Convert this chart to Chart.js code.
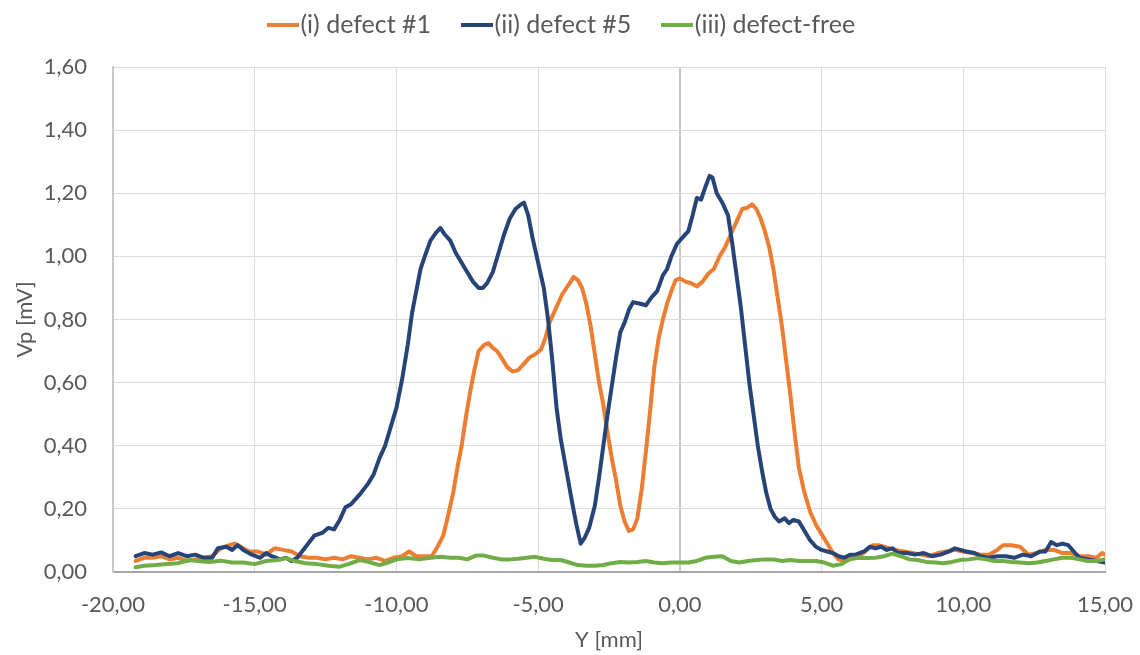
<!DOCTYPE html>
<html>
<head>
<meta charset="utf-8">
<script src="https://cdn.jsdelivr.net/npm/chart.js@4.4.0/dist/chart.umd.min.js"></script>
<style>
  html, body { margin: 0; padding: 0; background: #ffffff; }
  #wrap { width: 1140px; height: 655px; position: relative; }
</style>
</head>
<body>
<div id="wrap"><canvas id="c" width="1140" height="655"></canvas></div>
<script>
// ---- Data ----
const seriesLabels = ['(i) defect #1', '(ii) defect #5', '(iii) defect-free'];

const defect1X = [-19.2,-18.9,-18.6,-18.3,-18.0,-17.7,-17.4,-17.1,-16.8,-16.5,-16.2,-15.9,-15.7,-15.5,-15.2,-14.9,-14.6,-14.3,-14.0,-13.7,-13.4,-13.1,-12.8,-12.5,-12.2,-11.9,-11.6,-11.3,-11.0,-10.7,-10.4,-10.1,-9.8,-9.55,-9.3,-9.0,-8.75,-8.55,-8.35,-8.2,-8.0,-7.85,-7.7,-7.55,-7.4,-7.25,-7.1,-6.9,-6.75,-6.6,-6.45,-6.3,-6.1,-5.9,-5.7,-5.5,-5.3,-5.1,-4.9,-4.75,-4.6,-4.45,-4.3,-4.15,-4.0,-3.85,-3.75,-3.6,-3.45,-3.3,-3.15,-3.0,-2.85,-2.7,-2.55,-2.4,-2.25,-2.1,-1.95,-1.8,-1.65,-1.5,-1.35,-1.2,-1.05,-0.9,-0.75,-0.6,-0.45,-0.3,-0.15,0.0,0.2,0.4,0.6,0.8,1.0,1.2,1.4,1.6,1.8,2.0,2.2,2.4,2.55,2.7,2.85,3.0,3.15,3.3,3.45,3.6,3.75,3.9,4.05,4.2,4.4,4.6,4.8,5.0,5.2,5.4,5.6,5.8,6.0,6.2,6.4,6.6,6.8,7.0,7.2,7.4,7.6,7.9,8.2,8.5,8.8,9.1,9.4,9.7,10.0,10.3,10.6,10.9,11.2,11.4,11.7,12.0,12.3,12.6,12.9,13.2,13.5,13.8,14.1,14.4,14.7,14.9,15.0];
const defect1Y = [0.035,0.045,0.045,0.05,0.04,0.045,0.035,0.04,0.045,0.05,0.075,0.085,0.09,0.08,0.065,0.065,0.055,0.075,0.07,0.065,0.05,0.045,0.045,0.04,0.045,0.04,0.05,0.045,0.04,0.045,0.035,0.045,0.05,0.065,0.05,0.05,0.05,0.08,0.115,0.17,0.25,0.33,0.40,0.49,0.57,0.64,0.70,0.72,0.725,0.71,0.70,0.68,0.65,0.635,0.64,0.66,0.68,0.69,0.705,0.74,0.79,0.82,0.85,0.88,0.90,0.92,0.935,0.925,0.90,0.85,0.78,0.69,0.60,0.53,0.44,0.36,0.29,0.21,0.16,0.13,0.135,0.17,0.26,0.38,0.51,0.65,0.74,0.80,0.85,0.89,0.925,0.93,0.92,0.915,0.905,0.92,0.945,0.96,1.0,1.03,1.07,1.11,1.15,1.155,1.165,1.15,1.12,1.08,1.03,0.96,0.87,0.78,0.67,0.56,0.44,0.33,0.25,0.19,0.15,0.12,0.09,0.06,0.04,0.035,0.045,0.05,0.055,0.07,0.085,0.085,0.08,0.075,0.07,0.065,0.06,0.055,0.05,0.06,0.065,0.07,0.065,0.06,0.055,0.055,0.07,0.085,0.085,0.08,0.055,0.06,0.07,0.07,0.06,0.06,0.05,0.05,0.045,0.06,0.055];

const defect5X = [-19.2,-18.9,-18.6,-18.3,-18.0,-17.7,-17.4,-17.1,-16.8,-16.5,-16.3,-16.0,-15.8,-15.6,-15.4,-15.1,-14.8,-14.6,-14.4,-14.1,-13.9,-13.7,-13.5,-13.2,-12.9,-12.6,-12.4,-12.2,-12.0,-11.8,-11.6,-11.3,-11.0,-10.8,-10.6,-10.4,-10.2,-10.0,-9.8,-9.6,-9.45,-9.3,-9.15,-9.0,-8.8,-8.6,-8.45,-8.3,-8.1,-7.9,-7.7,-7.5,-7.3,-7.1,-6.95,-6.8,-6.6,-6.4,-6.2,-6.0,-5.8,-5.6,-5.5,-5.35,-5.2,-5.0,-4.8,-4.65,-4.5,-4.35,-4.2,-4.0,-3.8,-3.65,-3.5,-3.35,-3.2,-3.0,-2.85,-2.7,-2.55,-2.4,-2.25,-2.1,-1.95,-1.8,-1.65,-1.4,-1.2,-1.0,-0.8,-0.6,-0.45,-0.3,-0.1,0.1,0.3,0.45,0.6,0.75,0.9,1.05,1.15,1.3,1.5,1.7,1.85,2.0,2.15,2.3,2.45,2.6,2.75,2.9,3.05,3.2,3.35,3.5,3.7,3.85,4.0,4.2,4.4,4.6,4.8,5.0,5.2,5.4,5.6,5.8,6.0,6.2,6.5,6.7,6.9,7.1,7.3,7.5,7.7,8.0,8.3,8.6,8.9,9.2,9.5,9.7,9.9,10.1,10.4,10.6,10.9,11.2,11.5,11.8,12.1,12.4,12.7,12.9,13.1,13.3,13.5,13.7,13.9,14.1,14.4,14.7,15.0];
const defect5Y = [0.05,0.06,0.055,0.062,0.05,0.06,0.05,0.055,0.045,0.045,0.075,0.08,0.07,0.085,0.07,0.055,0.045,0.06,0.05,0.04,0.045,0.035,0.045,0.08,0.115,0.125,0.14,0.135,0.165,0.205,0.215,0.245,0.28,0.31,0.36,0.40,0.46,0.52,0.61,0.72,0.82,0.89,0.96,1.0,1.05,1.075,1.09,1.07,1.05,1.01,0.98,0.95,0.92,0.90,0.90,0.915,0.95,1.01,1.07,1.12,1.15,1.165,1.17,1.13,1.06,0.98,0.90,0.80,0.67,0.52,0.42,0.32,0.22,0.15,0.09,0.11,0.14,0.21,0.30,0.40,0.50,0.59,0.68,0.76,0.79,0.83,0.855,0.85,0.845,0.87,0.89,0.94,0.96,1.0,1.04,1.06,1.08,1.13,1.185,1.18,1.22,1.255,1.25,1.2,1.17,1.13,1.04,0.94,0.84,0.72,0.60,0.50,0.40,0.32,0.25,0.20,0.175,0.16,0.17,0.155,0.165,0.16,0.13,0.10,0.08,0.07,0.065,0.06,0.05,0.045,0.055,0.055,0.065,0.08,0.075,0.08,0.07,0.075,0.06,0.06,0.055,0.06,0.05,0.055,0.065,0.075,0.07,0.065,0.06,0.05,0.045,0.05,0.05,0.045,0.055,0.05,0.065,0.065,0.095,0.085,0.09,0.085,0.065,0.045,0.04,0.035,0.03];

const defectFreeX = [-19.2,-18.9,-18.5,-18.1,-17.7,-17.3,-17.0,-16.6,-16.2,-15.8,-15.4,-15.0,-14.6,-14.2,-13.9,-13.6,-13.2,-12.8,-12.4,-12.0,-11.7,-11.3,-11.0,-10.6,-10.3,-10.0,-9.6,-9.2,-8.8,-8.45,-8.1,-7.8,-7.5,-7.2,-6.9,-6.6,-6.3,-6.0,-5.7,-5.4,-5.1,-4.8,-4.5,-4.2,-3.9,-3.6,-3.3,-3.0,-2.7,-2.4,-2.1,-1.8,-1.5,-1.2,-0.9,-0.6,-0.3,0.0,0.3,0.6,0.9,1.2,1.5,1.8,2.1,2.4,2.7,3.0,3.3,3.6,3.9,4.2,4.5,4.8,5.1,5.4,5.7,6.0,6.3,6.6,6.9,7.2,7.5,7.8,8.1,8.4,8.7,9.0,9.3,9.6,9.9,10.2,10.5,10.8,11.1,11.4,11.7,12.0,12.3,12.6,12.9,13.2,13.5,13.8,14.1,14.4,14.7,15.0];
const defectFreeY = [0.015,0.02,0.022,0.025,0.028,0.038,0.035,0.032,0.036,0.03,0.03,0.025,0.035,0.038,0.044,0.035,0.028,0.025,0.02,0.017,0.025,0.038,0.032,0.022,0.03,0.04,0.044,0.04,0.045,0.048,0.045,0.045,0.04,0.052,0.052,0.045,0.04,0.04,0.042,0.045,0.048,0.042,0.038,0.038,0.03,0.022,0.02,0.02,0.022,0.028,0.032,0.03,0.032,0.035,0.03,0.028,0.03,0.03,0.03,0.035,0.045,0.048,0.05,0.035,0.03,0.035,0.038,0.04,0.04,0.035,0.038,0.035,0.035,0.035,0.03,0.02,0.025,0.04,0.045,0.044,0.045,0.05,0.058,0.05,0.04,0.038,0.032,0.03,0.028,0.032,0.038,0.04,0.044,0.04,0.035,0.035,0.032,0.03,0.028,0.03,0.035,0.04,0.045,0.045,0.04,0.035,0.035,0.04];

const seriesColors = ['#ED7D31', '#264478', '#70AD47'];

const xMin = -20, xMax = 15, xStep = 5;
const yMin = 0, yMax = 1.6, yStep = 0.2;
const xTitle = 'Y [mm]';
const yTitle = 'Vp [mV]';

// ---- Chart ----
const toPoints = (xs, ys) => xs.map((x, i) => ({ x: x, y: ys[i] }));
const fmt = v => Number(v).toFixed(2).replace('.', ',');
const textColor = '#595959';
const FONT = 'Lato';

// legend sample: a short thick line swatch
function legendSwatch(color) {
  const c = document.createElement('canvas');
  c.width = 32; c.height = 4;
  const g = c.getContext('2d');
  g.fillStyle = color;
  g.fillRect(0, 0, 32, 4);
  return c;
}

const legendFit = {
  id: 'legendFit',
  beforeLayout(chart) {
    const lg = chart.legend;
    if (lg && !lg._patched) {
      const orig = lg.fit;
      lg.fit = function () { orig.call(this); this.height = 96; };
      lg._patched = true;
    }
  }
};

new Chart(document.getElementById('c'), {
  type: 'line',
  data: {
    datasets: [
      { label: seriesLabels[0], data: toPoints(defect1X, defect1Y), borderColor: seriesColors[0], backgroundColor: seriesColors[0], order: 3 },
      { label: seriesLabels[1], data: toPoints(defect5X, defect5Y), borderColor: seriesColors[1], backgroundColor: seriesColors[1], order: 2 },
      { label: seriesLabels[2], data: toPoints(defectFreeX, defectFreeY), borderColor: seriesColors[2], backgroundColor: seriesColors[2], order: 1 }
    ]
  },
  options: {
    responsive: false,
    animation: false,
    devicePixelRatio: 1,
    layout: { padding: { top: -29, right: 7, bottom: 0, left: 0 } },
    elements: {
      line: { borderWidth: 4, tension: 0, fill: false, borderCapStyle: 'round', borderJoinStyle: 'round' },
      point: { radius: 0, hoverRadius: 0 }
    },
    plugins: {
      tooltip: { enabled: false },
      legend: {
        display: true,
        position: 'top',
        labels: {
          usePointStyle: true,
          pointStyleWidth: 10,
          boxHeight: 4,
          padding: 41,
          color: textColor,
          font: { family: FONT, size: 25 },
          generateLabels: (chart) => chart.data.datasets.map((ds, i) => ({
            text: ds.label,
            fillStyle: ds.borderColor,
            strokeStyle: ds.borderColor,
            lineWidth: 0,
            pointStyle: legendSwatch(ds.borderColor),
            hidden: false,
            datasetIndex: i,
            fontColor: textColor
          }))
        }
      }
    },
    scales: {
      x: {
        type: 'linear',
        min: xMin, max: xMax,
        afterFit: (s) => { s.height = 83; s.paddingRight = 35; },
        ticks: {
          stepSize: xStep,
          padding: 20,
          color: textColor,
          font: { family: FONT, size: 22 },
          maxRotation: 0,
          callback: (v) => fmt(v)
        },
        grid: {
          drawTicks: false,
          color: (c) => (c.tick && c.tick.value === 0) ? '#c8c8c8' : '#dcdcdc',
          lineWidth: (c) => (c.tick && c.tick.value === 0) ? 2 : 1
        },
        border: { display: true, color: '#a6a6a6', width: 2 },
        title: {
          display: true,
          text: xTitle,
          color: textColor,
          font: { family: FONT, size: 22 },
          padding: { top: 0, bottom: 2 }
        }
      },
      y: {
        type: 'linear',
        min: yMin, max: yMax,
        afterFit: (s) => { s.width = 113; },
        ticks: {
          stepSize: yStep,
          padding: 26,
          color: textColor,
          font: { family: FONT, size: 22 },
          callback: (v) => fmt(v)
        },
        grid: { drawTicks: false, color: '#dcdcdc', lineWidth: 1 },
        border: { display: true, color: '#c8c8c8', width: 2 },
        title: {
          display: true,
          text: yTitle,
          color: textColor,
          font: { family: FONT, size: 22 },
          padding: { top: 12, bottom: 0 }
        }
      }
    }
  },
  plugins: [legendFit]
});
</script>
</body>
</html>
